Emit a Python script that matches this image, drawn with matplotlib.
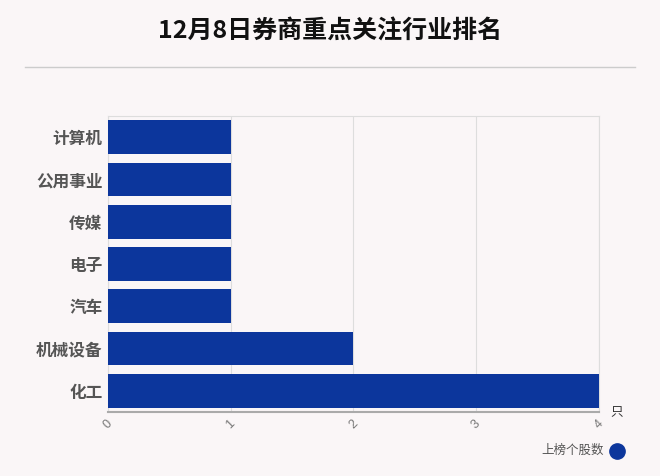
import matplotlib
matplotlib.use("Agg")
import matplotlib.pyplot as plt
from matplotlib.lines import Line2D

plt.rcParams['font.family'] = ['Noto Sans CJK SC', 'DejaVu Sans']

industries = ["计算机", "公用事业", "传媒", "电子", "汽车", "机械设备", "化工"]
counts = [1, 1, 1, 1, 1, 2, 4]
xticks = [0, 1, 2, 3, 4]

bg = "#faf6f7"
bar_color = "#0c369c"

fig = plt.figure(figsize=(6.6, 4.76), dpi=100, facecolor=bg)
ax = fig.add_axes([108 / 660, 1 - 412 / 476, (599 - 108) / 660, (412 - 116) / 476])
ax.set_facecolor(bg)

ax.barh(range(len(industries)), counts, height=0.8, color=bar_color, zorder=3)
ax.set_ylim(len(industries) - 0.5, -0.5)
ax.set_xlim(0, 4)
ax.set_yticks(range(len(industries)))
ax.set_yticklabels(industries, fontsize=12, fontweight="bold", color="#555555")
ax.set_xticks(xticks)
ax.set_xticklabels([str(t) for t in xticks], rotation=45, fontsize=9,
                   color="#777777", ha="center", va="top",
                   family=["Liberation Sans", "DejaVu Sans"])
ax.tick_params(axis="y", length=0, pad=4)
ax.tick_params(axis="x", length=0, pad=4)
ax.grid(axis="x", color="#dddddd", linewidth=0.8, zorder=0)
for side in ["top", "right", "left"]:
    ax.spines[side].set_color("#dddddd")
    ax.spines[side].set_linewidth(0.8)
ax.spines["bottom"].set_color("#aaaaaa")
ax.spines["bottom"].set_linewidth(1.5)

fig.text(0.5, 1 - 32 / 476, "12月8日券商重点关注行业排名", ha="center", va="center",
         fontsize=18, fontweight="bold", color="#111111")
fig.add_artist(Line2D([25 / 660, 635 / 660], [1 - 67 / 476, 1 - 67 / 476],
                      color="#cccccc", linewidth=1))
fig.text(617 / 660, 1 - 413 / 476, "只", ha="center", va="center", fontsize=9, color="#333333")
fig.text(604 / 660, 1 - 450 / 476, "上榜个股数", ha="right", va="center",
         fontsize=9, color="#555555")
fig.add_artist(Line2D([617 / 660], [1 - 451 / 476], marker="o", markersize=11,
                      color=bar_color, linestyle="none"))

fig.savefig("out.png", dpi=100, facecolor=bg)
